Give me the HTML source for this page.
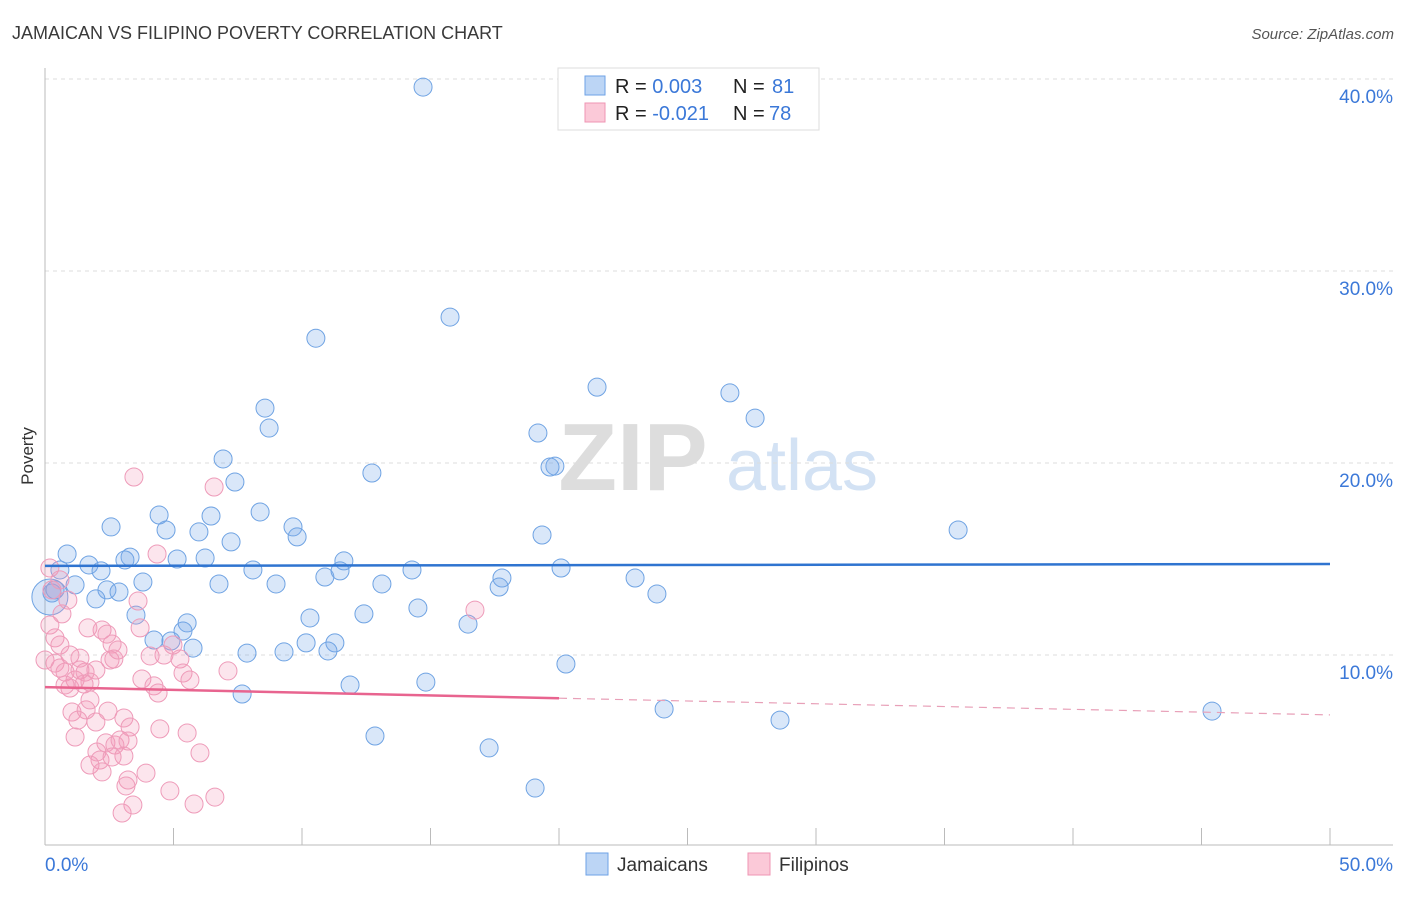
<!DOCTYPE html>
<html><head><meta charset="utf-8"><style>
body{margin:0;background:#fff;font-family:"Liberation Sans",sans-serif}
svg text{font-family:"Liberation Sans",sans-serif}
</style></head><body>
<svg id="c" width="1406" height="892" viewBox="0 0 1406 892" xmlns="http://www.w3.org/2000/svg">
<text x="12" y="39" font-size="18" fill="#3a3a3a">JAMAICAN VS FILIPINO POVERTY CORRELATION CHART</text>
<text x="1394" y="39" font-size="15" fill="#555" font-style="italic" text-anchor="end">Source: ZipAtlas.com</text>
<text transform="translate(33,456) rotate(-90)" font-size="17" fill="#333" text-anchor="middle">Poverty</text>
<g><text x="633" y="490" font-size="96" fill="#ddd" font-family="Liberation Serif" text-anchor="middle" font-weight="bold">ZIP</text><text x="802" y="490" font-size="72" fill="#d3e2f4" text-anchor="middle">atlas</text></g>
<g id="grid"></g><g id="axes"></g><g id="pts"></g><g id="trend"></g>
<g>
<rect x="558" y="68" width="261" height="62" fill="#fff" stroke="#ddd"/>
<rect x="585" y="76" width="20" height="19" fill="#bcd5f5" stroke="#6ea2e6"/>
<rect x="585" y="103" width="20" height="19" fill="#fbc9d8" stroke="#ef95b3"/>
<text x="615" y="93" font-size="20" fill="#222">R = <tspan fill="#3b78d8"> 0.003</tspan><tspan x="733">N = </tspan><tspan fill="#3b78d8" x="772">81</tspan></text>
<text x="615" y="120" font-size="20" fill="#222">R = <tspan fill="#3b78d8">-0.021</tspan><tspan x="733">N = </tspan><tspan fill="#3b78d8" x="769">78</tspan></text>
</g>
<g>
<rect x="586" y="853" width="22" height="22" fill="#bcd5f5" stroke="#6ea2e6"/>
<text x="617" y="871" font-size="19" fill="#333">Jamaicans</text>
<rect x="748" y="853" width="22" height="22" fill="#fbc9d8" stroke="#ef95b3"/>
<text x="779" y="871" font-size="19" fill="#333">Filipinos</text>
</g>
</svg>
<script>
const yTicks=[10,20,30,40];
const yTickLabels=["10.0%","20.0%","30.0%","40.0%"];
const xTicks=[0,5,10,15,20,25,30,35,40,45,50];
const xEndLabels=["0.0%","50.0%"];
const jamX=[14.71,15.76,10.54,21.48,26.65,8.56,27.63,8.72,19.18,6.93,19.84,19.65,12.72,7.39,35.53,2.57,4.44,6.46,8.37,9.65,4.71,5.99,9.81,7.24,19.34,0.86,3.31,3.11,5.14,6.23,11.63,0.58,1.71,2.18,8.09,14.28,20.08,10.89,11.48,17.78,22.96,3.81,6.77,8.99,13.11,17.67,1.17,2.41,2.88,0.27,23.81,1.98,14.51,10.31,12.41,3.54,5.53,5.37,16.46,4.24,4.90,10.16,11.28,5.76,7.86,9.30,11.01,20.27,11.87,14.82,7.67,24.09,45.41,28.60,12.84,17.28,19.07,0.19,0.39];
const jamY=[39.58,27.6,26.5,23.95,23.65,22.86,22.34,21.82,21.56,20.21,19.84,19.79,19.48,19.01,16.51,16.67,17.29,17.24,17.45,16.67,16.51,16.41,16.15,15.89,16.25,15.26,15.10,14.95,15.0,15.05,14.90,14.43,14.69,14.38,14.43,14.43,14.53,14.06,14.38,14.01,14.01,13.80,13.70,13.70,13.70,13.54,13.65,13.39,13.28,13.23,13.18,12.92,12.45,11.93,12.14,12.08,11.67,11.25,11.61,10.78,10.73,10.63,10.63,10.36,10.10,10.16,10.21,9.53,8.44,8.59,7.97,7.19,7.08,6.61,5.78,5.16,3.07,13.02,13.39];
const filX=[3.46,6.58,4.36,16.73,3.62,0.19,0.27,0.19,0.39,1.67,2.22,2.41,0.58,0.97,2.61,2.68,2.53,4.98,5.25,4.09,4.63,7.12,0.39,0.58,0.78,1.17,1.36,1.56,1.75,0.97,0.78,5.37,3.77,4.24,4.40,1.98,1.52,1.05,1.60,2.45,3.07,3.31,4.47,5.53,6.03,1.98,1.28,1.17,2.37,2.72,2.92,3.23,2.02,2.14,1.75,3.07,2.22,3.23,3.93,3.15,4.86,3.42,5.80,6.61,3.00,0.58,0.89,0.66,1.36,3.70,2.84,1.75,5.64,0,2.61];
const filY=[19.27,18.75,15.26,12.34,12.81,14.53,13.39,11.56,10.89,11.41,11.30,11.09,10.52,10.0,10.57,9.79,9.74,10.52,9.79,9.95,10.0,9.17,9.58,9.32,9.11,8.70,9.22,9.11,8.59,8.28,8.44,9.06,8.75,8.39,8.02,9.22,8.49,7.03,7.14,7.08,6.72,6.25,6.15,5.94,4.90,6.51,6.61,5.73,5.42,5.31,5.57,5.52,4.95,4.53,4.27,4.74,3.91,3.49,3.85,3.18,2.92,2.19,2.24,2.60,1.77,13.91,12.86,12.14,9.84,11.41,10.26,7.66,8.70,9.74,4.69];
const jamTrend=[14.64,14.74];
const filTrend=[8.33,6.88];
const filSolidEnd=20;
const NS='http://www.w3.org/2000/svg';
const sx=v=>45+v*25.7, sy=v=>847-v*19.2;
function mk(t,a,p){const e=document.createElementNS(NS,t);for(const k in a)e.setAttribute(k,a[k]);p.appendChild(e);return e;}
const grid=document.getElementById('grid'),axes=document.getElementById('axes'),pts=document.getElementById('pts'),tr=document.getElementById('trend');
yTicks.forEach((v,i)=>{
 const l=mk('line',{x1:45,x2:1393,y1:sy(v),y2:sy(v),stroke:'#ddd','stroke-dasharray':'4,4'},grid);
 
 
 const t=mk('text',{x:1393,y:sy(v)+24,'font-size':19,fill:'#3b78d8','text-anchor':'end'},axes);
 t.textContent=yTickLabels[i];
 
 
});
const ya=mk('line',{x1:45,x2:45,y1:68,y2:845,stroke:'#bbb'},axes);


const xa=mk('line',{x1:45,x2:1393,y1:845,y2:845,stroke:'#bbb'},axes);


xTicks.forEach(v=>{
 const l=mk('line',{x1:sx(v),x2:sx(v),y1:828,y2:845,stroke:'#bbb'},axes);
 
 
});
[[0,'start',45],[50,'end',1393]].forEach((d,i)=>{
 const t=mk('text',{x:d[2],y:871,'font-size':19,fill:'#3b78d8','text-anchor':d[1]},axes);
 t.textContent=xEndLabels[i];
 
 
});
jamX.forEach((x,i)=>{
 const c=mk('circle',{cx:sx(x),cy:sy(jamY[i]),r:i==77?18:9,fill:'rgba(120,170,232,0.28)',stroke:'#6fa3e3','stroke-width':1},pts);
 
 
});
filX.forEach((x,i)=>{
 const c=mk('circle',{cx:sx(x),cy:sy(filY[i]),r:9,fill:'rgba(242,150,182,0.25)',stroke:'#ee9bb9','stroke-width':1},pts);
 
 
});
const jl=mk('line',{x1:sx(0),x2:sx(50),y1:sy(jamTrend[0]),y2:sy(jamTrend[1]),stroke:'#2f74d0','stroke-width':2.5},tr);


const fm=filTrend[0]+(filTrend[1]-filTrend[0])*filSolidEnd/50;
const fl=mk('line',{x1:sx(0),x2:sx(filSolidEnd),y1:sy(filTrend[0]),y2:sy(fm),stroke:'#e8648f','stroke-width':2.5},tr);


const fd=mk('line',{x1:sx(filSolidEnd),x2:sx(50),y1:sy(fm),y2:sy(filTrend[1]),stroke:'#e8a0b8','stroke-width':1.2,'stroke-dasharray':'8,6'},tr);


</script>
</body></html>
